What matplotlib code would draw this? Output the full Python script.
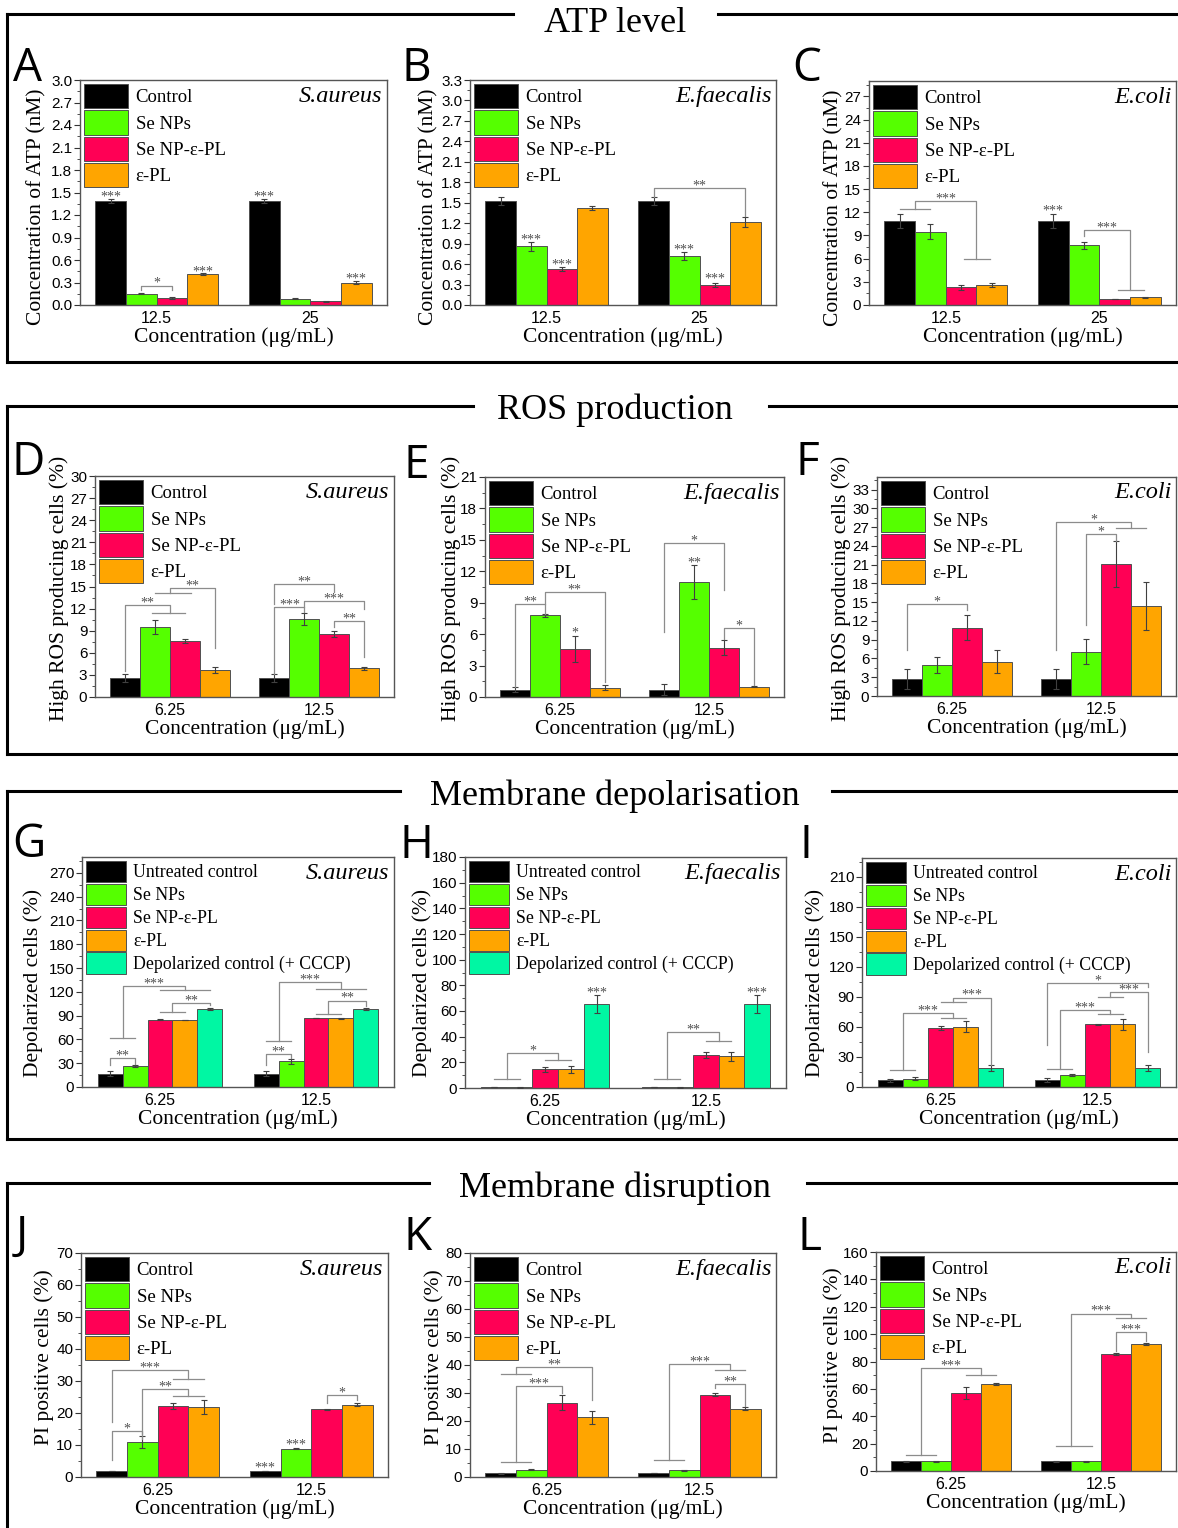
import numpy as np
import matplotlib
matplotlib.use("Agg")
import matplotlib.pyplot as plt
from matplotlib.lines import Line2D
from matplotlib.ticker import AutoMinorLocator, FormatStrFormatter

W, H = 1178, 1528
SERIF = "Liberation Serif"
SANS = "Liberation Sans"

# ---- data ----
names4 = ["Control", "Se NPs", "Se NP-\u03b5-PL", "\u03b5-PL"]
names5 = ["Untreated control", "Se NPs", "Se NP-\u03b5-PL", "\u03b5-PL", "Depolarized control (+ CCCP)"]
conc_atp = ["12.5", "25"]
conc_low = ["6.25", "12.5"]

# rows = concentration groups, columns = treatments
a_mean = [[1.385, 0.15, 0.093, 0.41], [1.385, 0.084, 0.05, 0.30]]
a_err = [[0.03, 0.005, 0.01, 0.012], [0.03, 0.01, 0.005, 0.015]]
b_mean = [[1.52, 0.86, 0.53, 1.42], [1.52, 0.72, 0.30, 1.22]]
b_err = [[0.06, 0.07, 0.03, 0.03], [0.06, 0.06, 0.03, 0.07]]
c_mean = [[10.9, 9.5, 2.27, 2.6], [10.9, 7.75, 0.77, 1.0]]
c_err = [[0.9, 1.0, 0.3, 0.25], [0.9, 0.45, 0.05, 0.1]]

d_mean = [[2.55, 9.5, 7.6, 3.64], [2.55, 10.64, 8.55, 3.9]]
d_err = [[0.55, 0.95, 0.25, 0.4], [0.55, 0.8, 0.45, 0.2]]
e_mean = [[0.7, 7.8, 4.6, 0.9], [0.7, 11.0, 4.7, 1.0]]
e_err = [[0.25, 0.12, 1.25, 0.2], [0.5, 1.6, 0.7, 0.05]]
f_mean = [[2.65, 4.9, 10.9, 5.5], [2.65, 7.1, 21.1, 14.4]]
f_err = [[1.6, 1.3, 2.0, 1.8], [1.6, 2.0, 3.6, 3.8]]

g_mean = [[17, 26.7, 85, 84.5, 98.5], [17, 32.5, 87, 86.5, 98.5]]
g_err = [[3, 1, 1, 0.5, 1], [3, 3, 0.5, 0.5, 1]]
h_mean = [[0.8, 0.4, 14.5, 14.5, 65.5], [0.8, 0.4, 25.5, 24.7, 65.5]]
h_err = [[0.3, 0.2, 2, 2.5, 7], [0.3, 0.2, 2.5, 3.5, 7]]
i_mean = [[7, 8.3, 59.5, 60.5, 19], [7, 12.3, 63, 63, 19]]
i_err = [[1.5, 1.5, 2, 5.5, 3], [2, 1, 0.5, 5.5, 3]]

j_mean = [[1.9, 11, 22.2, 22.0], [1.9, 8.9, 21.1, 22.6]]
j_err = [[0.1, 1.8, 0.8, 2.2], [0.1, 0.3, 0.1, 0.4]]
k_mean = [[1.3, 2.6, 26.6, 21.3], [1.4, 2.4, 29.4, 24.4]]
k_err = [[0.1, 0.2, 2.8, 2.4], [0.1, 0.1, 0.5, 0.5]]
l_mean = [[7, 7, 57, 63.5], [7, 7, 85.5, 92.8]]
l_err = [[0.3, 0.3, 4.5, 1], [0.3, 0.6, 0.8, 0.5]]

# significance marks
# stars: (group, bar, y, text); brackets: (group, bar_a, bar_b, y_a, y_b, y_top, text); hlines: (group, bar_a, bar_b, y)
a_stars = [(0, 0, 1.48, "***"), (0, 3, 0.49, "***"), (1, 0, 1.48, "***"), (1, 3, 0.39, "***")]
a_brk = [(0, 1, 2, 0.20, 0.195, 0.26, "*")]
a_hl = []
b_stars = [(0, 1, 1.0, "***"), (0, 2, 0.64, "***"), (1, 1, 0.86, "***"), (1, 2, 0.43, "***")]
b_brk = [(1, 0, 3, 1.59, 1.30, 1.72, "**")]
b_hl = []
c_stars = [(1, 0, 12.55, "***")]
c_brk = [(0, 0.5, 2.5, 12.4, 6.0, 13.5, "***"), (1, 1, 2.5, 8.9, 1.97, 9.7, "***")]
c_hl = [(0, 0, 1, 12.4), (0, 2.1, 2.95, 6.0), (1, 2.1, 2.95, 1.97)]

d_stars = []
d_brk = [(0, 0, 1.5, 3.5, 11.4, 12.45, "**"), (0, 1.5, 3, 14.05, 6.7, 14.8, "**"),
         (1, 0, 2, 12.6, 14.2, 15.3, "**"), (1, 0, 1, 3.1, 11.5, 12.2, "***"),
         (1, 1, 3, 12.2, 12.0, 13.0, "***"), (1, 2, 3, 9.45, 5.4, 10.3, "**")]
d_hl = [(0, 0.9, 2.0, 11.4), (0, 1.0, 2.2, 14.05)]
e_stars = [(0, 2, 6.4, "*"), (1, 1, 13.15, "**")]
e_brk = [(0, 0, 1, 1.0, 7.95, 8.9, "**"), (0, 1, 3, 8.9, 1.4, 10.0, "**"),
         (1, 0, 2, 6.2, 10.25, 14.7, "*"), (1, 2, 3, 5.5, 1.1, 6.6, "*")]
e_hl = []
f_stars = []
f_brk = [(0, 0, 2, 7.3, 13.7, 14.7, "*"), (1, 0, 2.5, 7.3, 26.8, 27.85, "*"), (1, 1, 2, 11.3, 24.8, 25.9, "*")]
f_hl = [(1, 2.0, 3.0, 26.8)]

g_stars = []
g_brk = [(0, 0, 1, 28, 29, 36, "**"), (0, 0.5, 3, 62, 122, 127, "***"), (0, 2.5, 4, 94, 103, 106, "**"),
         (1, 0, 1, 28, 36, 41, "**"), (1, 0.5, 3, 57.5, 124, 132, "***"), (1, 2.5, 4, 92, 102.5, 109, "**")]
g_hl = [(0, 0, 1, 62), (0, 2, 4, 122), (0, 2, 3, 94), (1, 0, 1, 57.5), (1, 2, 4, 124), (1, 2, 3, 92)]
h_stars = [(0, 4, 76.6, "***"), (1, 4, 76.6, "***")]
h_brk = [(0, 0.5, 2.5, 7.3, 21.5, 27, "*"), (1, 0.5, 2.5, 7.3, 36.9, 43.4, "**")]
h_hl = [(0, 0, 1, 7.3), (0, 2, 3, 21.5), (1, 0, 1, 7.3), (1, 2, 3, 36.9)]
i_stars = []
i_brk = [(0, 0.5, 2.5, 17, 68.8, 73.7, "***"), (0, 2.5, 4, 85, 22, 89.4, "***"),
         (1, 0.5, 2.5, 17.6, 72.8, 76.7, "***"), (1, 2.5, 4, 90, 35.5, 95, "***"),
         (1, 0, 4, 42, 100, 104, "*")]
i_hl = [(0, 0, 1, 17), (0, 2, 3, 68.8), (0, 2, 3, 85), (1, 0, 1, 17.6), (1, 2, 3, 72.8), (1, 2, 3, 90)]

j_stars = [(1, 0, 4.0, "***"), (1, 1, 11.0, "***")]
j_brk = [(0, 0, 1, 5.2, 13.4, 14.4, "*"), (0, 1, 2.5, 12, 25.3, 27.4, "**"),
         (0, 0, 2.5, 17.2, 30.5, 33.4, "***"), (1, 2, 3, 23, 24.2, 25.5, "*")]
j_hl = [(0, 2, 3, 25.3), (0, 2, 3, 30.5)]
k_stars = []
k_brk = [(0, 0.5, 2, 5.4, 30, 32.6, "***"), (0, 0.5, 3, 36.8, 27.6, 39.3, "**"),
         (1, 0.5, 2.5, 6.2, 38.1, 40.3, "***"), (1, 2, 3, 31.8, 25.2, 33.2, "**")]
k_hl = [(0, 0, 1, 5.4), (0, 0, 1, 36.8), (1, 0, 1, 6.2), (1, 2, 3, 38.1)]
l_stars = []
l_brk = [(0, 0.5, 2.5, 11.7, 70.4, 75.5, "***"), (1, 0.5, 2.5, 18, 111.8, 115, "***"),
         (1, 2, 3, 87.4, 94.7, 101.6, "***")]
l_hl = [(0, 0, 1, 11.7), (0, 2, 3, 70.4), (1, 0, 1.2, 18), (1, 2, 3, 111.8)]

colors4 = ["#000000", "#55FF00", "#FF0055", "#FFA500"]
colors5 = colors4 + ["#00F7A3"]

fig = plt.figure(figsize=(W / 100, H / 100), dpi=100)


def fx(x):
    return x / W


def fy(y):
    return 1 - y / H


def panel(box, means, errs, names, groups, ylim, yticks, fmt, ylabel, species,
          stars, brackets, hlines, letter, letter_xy, ylab_xy):
    l, t, r, b = box
    ax = fig.add_axes([fx(l), fy(b), (r - l) / W, (b - t) / H])
    n = len(names)
    cols = colors5 if n == 5 else colors4
    w = 0.8 / n
    gx = np.arange(1, len(groups) + 1)

    def bx(g, i):
        return gx[g] + (i - (n - 1) / 2) * w

    handles = []
    for i in range(n):
        vals = [m[i] for m in means]
        ee = [e[i] for e in errs]
        xs = gx + (i - (n - 1) / 2) * w
        bars = ax.bar(xs, vals, w, color=cols[i], edgecolor="#505050", linewidth=0.7, zorder=2)
        ax.errorbar(xs, vals, yerr=ee, fmt="none", ecolor="#404040", elinewidth=0.8,
                    capsize=2, capthick=0.8, zorder=3)
        handles.append(bars)

    lc = "#8c8c8c"
    for g, a, c, y in hlines:
        ax.plot([bx(g, a), bx(g, c)], [y, y], color=lc, lw=0.9, zorder=4)
    for g, a, c, ya, yb, yt, txt in brackets:
        xa, xb = bx(g, a), bx(g, c)
        ax.plot([xa, xa, xb, xb], [ya, yt, yt, yb], color=lc, lw=0.9, zorder=4)
        ax.annotate(txt, ((xa + xb) / 2, yt), xytext=(0, 1.5), textcoords="offset points",
                    ha="center", va="center", fontsize=10, color="#505050", family=SERIF)
    for g, i, y, txt in stars:
        ax.annotate(txt, (bx(g, i), y), xytext=(0, -2.5), textcoords="offset points",
                    ha="center", va="center", fontsize=10, color="#505050", family=SERIF)

    ax.set_xlim(0.5, len(groups) + 0.5)
    ax.set_ylim(*ylim)
    ax.set_xticks(gx)
    ax.set_xticklabels(groups, family=SANS, fontsize=11.5)
    ax.set_yticks(yticks)
    ax.yaxis.set_major_formatter(FormatStrFormatter(fmt))
    for lab in ax.get_yticklabels():
        lab.set_family(SANS)
        lab.set_fontsize(11)
    ax.yaxis.set_minor_locator(AutoMinorLocator(2))
    ax.tick_params(axis="x", length=0, pad=4)
    ax.tick_params(axis="y", which="major", length=4, width=0.8, pad=1.5, colors="#333333", labelcolor="black")
    ax.tick_params(axis="y", which="minor", length=2, width=0.6, colors="#333333")
    for sp in ax.spines.values():
        sp.set_color("#555555")
        sp.set_linewidth(1.0)
    ax.set_ylabel(ylabel, family=SERIF, fontsize=15.5)
    # label anchor given in figure pixels (right edge of the rotated text, vertical centre)
    ax.yaxis.set_label_coords((ylab_xy[0] - l) / (r - l), (b - ylab_xy[1]) / (b - t))
    ax.set_xlabel("Concentration (\u03bcg/mL)", family=SERIF, fontsize=15.5, labelpad=1)

    if n == 4:
        lk = dict(prop={"family": SERIF, "size": 13.5}, handlelength=2.35, handleheight=1.62,
                  labelspacing=0.1)
    else:
        lk = dict(prop={"family": SERIF, "size": 12.8}, handlelength=2.25, handleheight=1.45,
                  labelspacing=0.1)
    ax.legend(handles, names, loc="upper left", frameon=False, handletextpad=0.4,
              borderaxespad=0.12, borderpad=0.1, **lk)
    ax.text(0.985, 0.975, species, transform=ax.transAxes, ha="right", va="top",
            family=SERIF, style="italic", fontsize=17.5)
    fig.text(fx(letter_xy[0]), fy(letter_xy[1]), letter, family="Open Sans", fontsize=33,
             ha="left", va="baseline")
    return ax


ylab_atp = "Concentration of ATP (nM)"
ylab_ros = "High ROS producing cells (%)"
ylab_dep = "Depolarized cells (%)"
ylab_pi = "PI positive cells (%)"

panel((80, 80, 387, 305), a_mean, a_err, names4, conc_atp, (0, 3.0), np.arange(0, 3.01, 0.3), "%.1f",
      ylab_atp, "S.aureus", a_stars, a_brk, a_hl, "A", (13, 81), (46, 207))
panel((470, 80, 776, 305), b_mean, b_err, names4, conc_atp, (0, 3.3), np.arange(0, 3.31, 0.3), "%.1f",
      ylab_atp, "E.faecalis", b_stars, b_brk, b_hl, "B", (402, 81), (438, 207))
panel((869, 81, 1176, 305), c_mean, c_err, names4, conc_atp, (0, 29), np.arange(0, 28, 3), "%d",
      ylab_atp, "E.coli", c_stars, c_brk, c_hl, "C", (792, 81), (843, 208))

panel((95, 476, 394, 697), d_mean, d_err, names4, conc_low, (0, 30), np.arange(0, 31, 3), "%d",
      ylab_ros, "S.aureus", d_stars, d_brk, d_hl, "D", (12, 475), (69, 588))
panel((485, 477, 784, 697), e_mean, e_err, names4, conc_low, (0, 21), np.arange(0, 22, 3), "%d",
      ylab_ros, "E.faecalis", e_stars, e_brk, e_hl, "E", (403, 478), (461, 588))
panel((877, 477, 1176, 696), f_mean, f_err, names4, conc_low, (0, 35), np.arange(0, 34, 3), "%d",
      ylab_ros, "E.coli", f_stars, f_brk, f_hl, "F", (795, 475), (851, 588))

panel((82, 857, 394, 1087), g_mean, g_err, names5, conc_low, (0, 290), np.arange(0, 271, 30), "%d",
      ylab_dep, "S.aureus", g_stars, g_brk, g_hl, "G", (12, 857), (43, 983))
panel((465, 857, 786, 1088), h_mean, h_err, names5, conc_low, (0, 180), np.arange(0, 181, 20), "%d",
      ylab_dep, "E.faecalis", h_stars, h_brk, h_hl, "H", (399, 858), (432, 983))
panel((862, 858, 1176, 1087), i_mean, i_err, names5, conc_low, (0, 229), np.arange(0, 211, 30), "%d",
      ylab_dep, "E.coli", i_stars, i_brk, i_hl, "I", (800, 858), (825, 983))

panel((81, 1253, 388, 1477), j_mean, j_err, names4, conc_low, (0, 70), np.arange(0, 71, 10), "%d",
      ylab_pi, "S.aureus", j_stars, j_brk, j_hl, "J", (16, 1249), (54, 1357))
panel((470, 1253, 776, 1477), k_mean, k_err, names4, conc_low, (0, 80), np.arange(0, 81, 10), "%d",
      ylab_pi, "E.faecalis", k_stars, k_brk, k_hl, "K", (403, 1250), (444, 1357))
panel((876, 1252, 1176, 1471), l_mean, l_err, names4, conc_low, (0, 160), np.arange(0, 161, 20), "%d",
      ylab_pi, "E.coli", l_stars, l_brk, l_hl, "L", (797, 1250), (843, 1355))

# section frames: (top, bottom, gap_left, gap_right, title, title_y)
sections = [(14, 362, 513, 718, "ATP level", 24),
            (406, 754, 473, 769, "ROS production", 410),
            (791, 1139, 400, 832, "Membrane depolarisation", 796),
            (1183, None, 429, 807, "Membrane disruption", 1188)]
for top, bot, g1, g2, title, ty in sections:
    kw = dict(color="black", lw=2.2, transform=fig.transFigure)
    fig.add_artist(Line2D([fx(7), fx(g1)], [fy(top), fy(top)], **kw))
    fig.add_artist(Line2D([fx(g2), fx(W)], [fy(top), fy(top)], **kw))
    yb = H if bot is None else bot
    fig.add_artist(Line2D([fx(7), fx(7)], [fy(top), fy(yb)], **kw))
    if bot is not None:
        fig.add_artist(Line2D([fx(7), fx(W)], [fy(bot), fy(bot)], **kw))
    fig.text(fx(615), fy(ty), title, family=SERIF, fontsize=26, ha="center", va="center")

fig.savefig("out.png", dpi=100)
